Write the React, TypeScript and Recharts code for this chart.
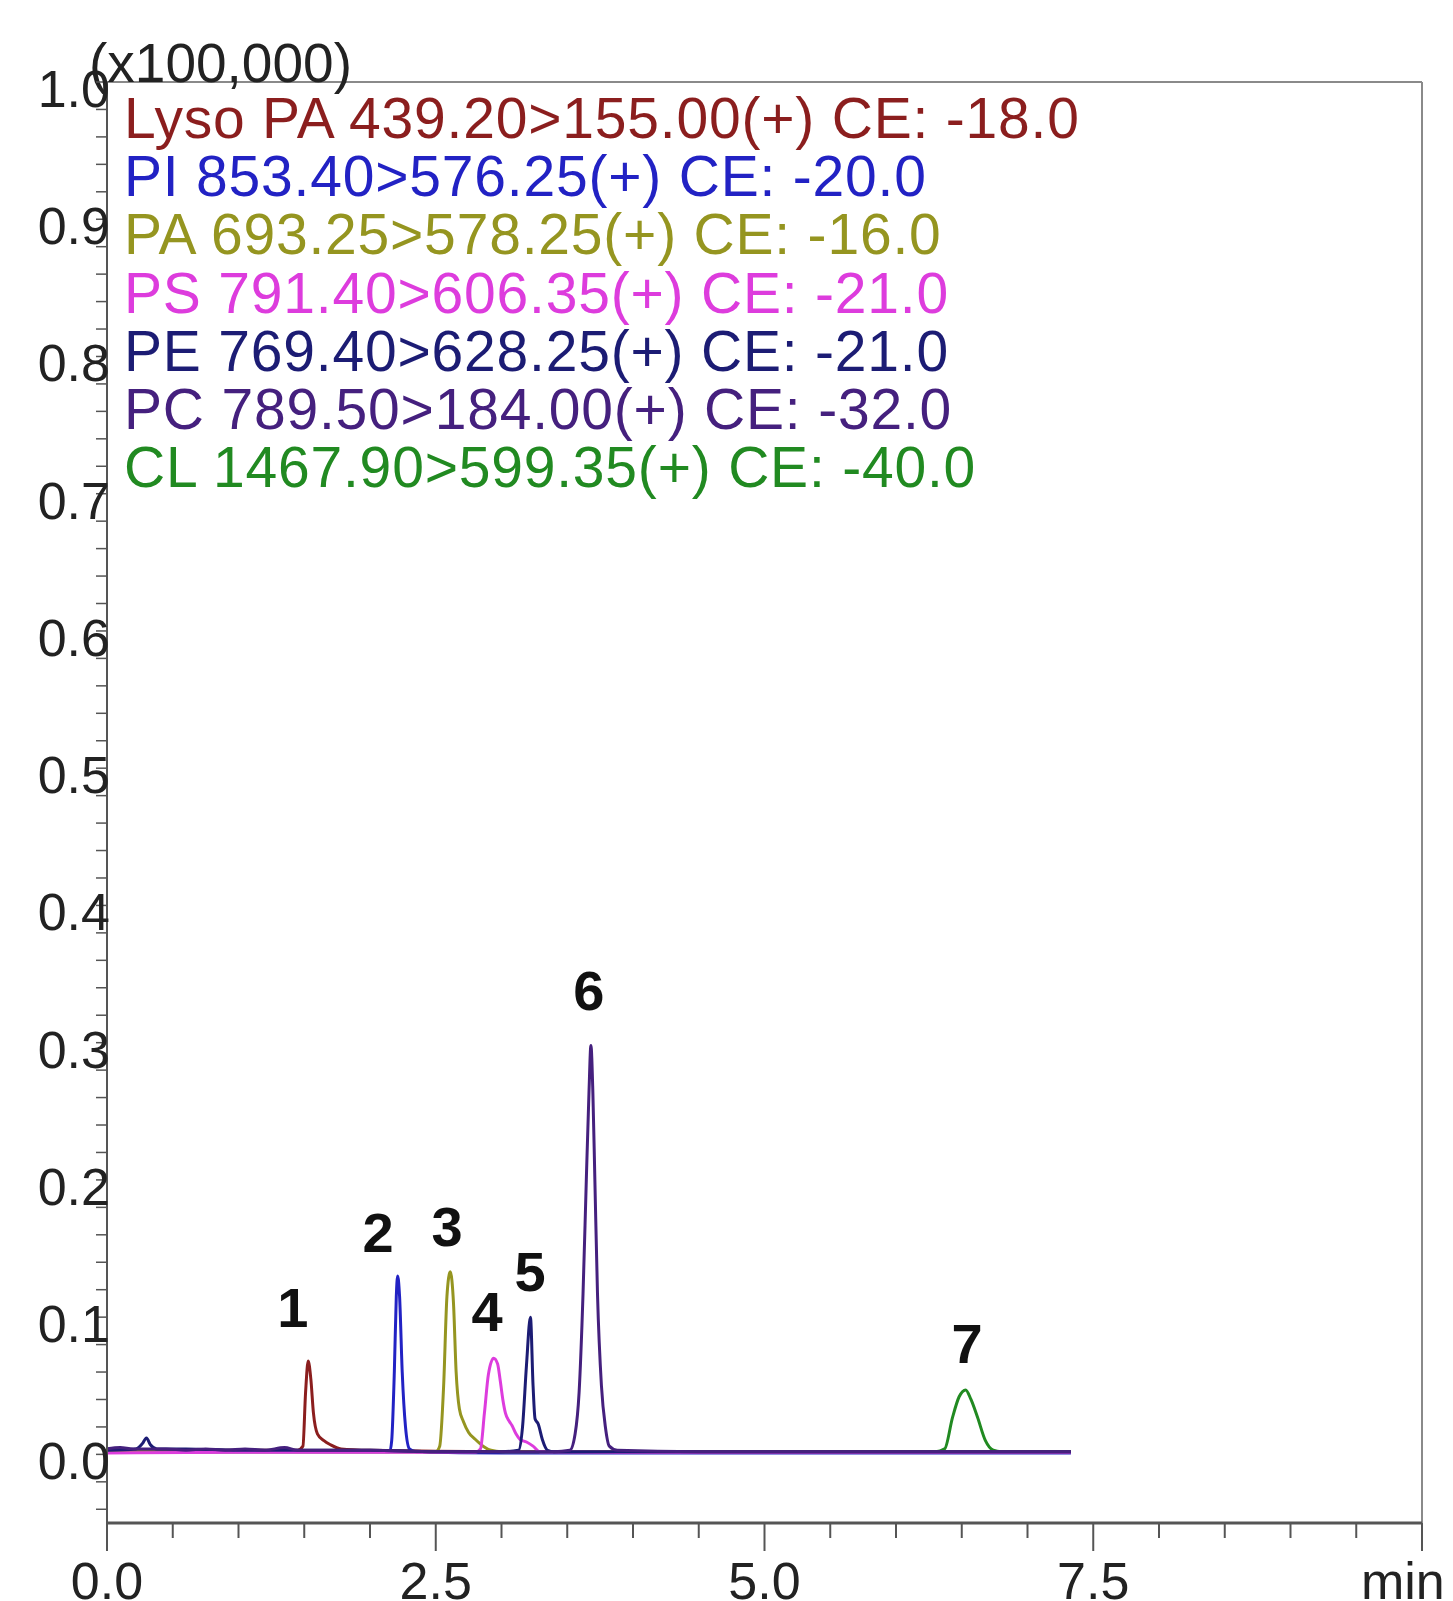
import React from 'react';
import { ComposedChart, Line, XAxis, YAxis, Legend, ReferenceLine, Scatter } from 'recharts';

const FONT = '"Liberation Sans", Arial, sans-serif';

// ---- Series (time [min], intensity [x100,000]) ----
const lysoPA: [number, number][] = [
  [0, 0.003], [0.5, 0.003], [1.0, 0.003], [1.45, 0.003], [1.49, 0.006], [1.51, 0.045], [1.53, 0.068],
  [1.55, 0.055], [1.57, 0.03], [1.6, 0.015], [1.65, 0.01], [1.7, 0.007], [1.78, 0.004], [2.0, 0.003],
  [3.0, 0.002], [7.33, 0.002],
];
const pi: [number, number][] = [
  [0, 0.002], [1.0, 0.002], [2.0, 0.002], [2.15, 0.002], [2.165, 0.01], [2.185, 0.06], [2.2, 0.115],
  [2.21, 0.13], [2.225, 0.115], [2.245, 0.06], [2.27, 0.02], [2.3, 0.004], [2.35, 0.002], [3.0, 0.001],
  [4.0, 0.001], [7.33, 0.001],
];
const pa: [number, number][] = [
  [0, 0.002], [1.0, 0.002], [2.0, 0.002], [2.5, 0.002], [2.53, 0.006], [2.56, 0.05], [2.585, 0.115],
  [2.61, 0.133], [2.635, 0.11], [2.655, 0.06], [2.68, 0.033], [2.71, 0.024], [2.75, 0.016], [2.8, 0.011],
  [2.86, 0.006], [2.92, 0.003], [3.0, 0.002], [4.0, 0.002], [7.33, 0.002],
];
const ps: [number, number][] = [
  [0, 0.001], [1.0, 0.0015], [2.0, 0.0015], [2.8, 0.0015], [2.84, 0.004], [2.87, 0.03], [2.9, 0.058],
  [2.94, 0.07], [2.97, 0.066], [2.99, 0.054], [3.01, 0.04], [3.03, 0.03], [3.06, 0.024], [3.08, 0.021],
  [3.11, 0.015], [3.14, 0.011], [3.19, 0.009], [3.24, 0.006], [3.29, 0.002], [4.0, 0.0015], [5.0, 0.0015],
  [6.0, 0.0015], [7.33, 0.0015],
];
const pe: [number, number][] = [
  [0, 0.003], [0.22, 0.004], [0.27, 0.008], [0.3, 0.012], [0.33, 0.007], [0.38, 0.004], [0.6, 0.004],
  [1.0, 0.003], [1.5, 0.003], [2.0, 0.003], [2.5, 0.002], [3.0, 0.002], [3.13, 0.003], [3.16, 0.02],
  [3.19, 0.065], [3.22, 0.1], [3.24, 0.05], [3.255, 0.026], [3.28, 0.022], [3.31, 0.011], [3.35, 0.003],
  [3.4, 0.002], [4.0, 0.002], [5.0, 0.002], [6.0, 0.002], [7.33, 0.002],
];
const pc: [number, number][] = [
  [0, 0.004], [0.1, 0.005], [0.2, 0.004], [0.45, 0.004], [0.6, 0.003], [0.75, 0.004], [0.9, 0.003],
  [1.05, 0.004], [1.2, 0.003], [1.35, 0.005], [1.45, 0.003], [1.7, 0.003], [2.0, 0.003], [2.5, 0.002],
  [3.0, 0.002], [3.4, 0.002], [3.52, 0.003], [3.56, 0.015], [3.59, 0.045], [3.62, 0.117], [3.645, 0.2],
  [3.665, 0.263], [3.68, 0.298], [3.695, 0.263], [3.71, 0.2], [3.73, 0.117], [3.76, 0.05], [3.79, 0.02],
  [3.82, 0.006], [3.88, 0.003], [4.5, 0.002], [5.5, 0.002], [6.5, 0.002], [7.33, 0.002],
];
const cl: [number, number][] = [
  [0, 0.002], [2.0, 0.002], [4.0, 0.002], [6.3, 0.002], [6.37, 0.004], [6.43, 0.027], [6.48, 0.042],
  [6.53, 0.047], [6.57, 0.04], [6.62, 0.027], [6.68, 0.01], [6.74, 0.003], [6.8, 0.002], [7.33, 0.002],
];

// legend names / colours (legend order)
const seriesNames = [
  'Lyso PA 439.20>155.00(+) CE: -18.0',
  'PI 853.40>576.25(+) CE: -20.0',
  'PA 693.25>578.25(+) CE: -16.0',
  'PS 791.40>606.35(+) CE: -21.0',
  'PE 769.40>628.25(+) CE: -21.0',
  'PC 789.50>184.00(+) CE: -32.0',
  'CL 1467.90>599.35(+) CE: -40.0',
];
const seriesColors = ['#8B1E1E', '#2222C4', '#959520', '#DD3CDD', '#1C1C74', '#45207E', '#218A21'];
const seriesData = [lysoPA, pi, pa, ps, pe, pc, cl];
// draw order: CL first, PC on top
const drawOrder = [6, 0, 1, 2, 3, 4, 5];

// peak number labels (time, intensity of label centre)
const peakLabelText = ['1', '2', '3', '4', '5', '6', '7'];
const peakLabelT = [1.414, 2.061, 2.586, 2.89, 3.217, 3.665, 6.54];
const peakLabelV = [0.1074, 0.162, 0.1664, 0.1045, 0.1336, 0.3384, 0.0812];

// axis ticks
const yTicks = [
  -0.04, -0.02, 0, 0.02, 0.04, 0.06, 0.08, 0.1, 0.12, 0.14, 0.16, 0.18, 0.2, 0.22, 0.24, 0.26, 0.28,
  0.3, 0.32, 0.34, 0.36, 0.38, 0.4, 0.42, 0.44, 0.46, 0.48, 0.5, 0.52, 0.54, 0.56, 0.58, 0.6, 0.62,
  0.64, 0.66, 0.68, 0.7, 0.72, 0.74, 0.76, 0.78, 0.8, 0.82, 0.84, 0.86, 0.88, 0.9, 0.92, 0.94, 0.96,
  0.98, 1.0,
];
const yMajorTicks = [0, 0.1, 0.2, 0.3, 0.4, 0.5, 0.6, 0.7, 0.8, 0.9, 1.0];
const yMajorLabels = ['0.0', '0.1', '0.2', '0.3', '0.4', '0.5', '0.6', '0.7', '0.8', '0.9', '1.0'];
const xTicks = [0, 0.5, 1, 1.5, 2, 2.5, 3, 3.5, 4, 4.5, 5, 5.5, 6, 6.5, 7, 7.5, 8, 8.5, 9, 9.5, 10];
const xMajorTicks = [0, 2.5, 5, 7.5, 10];
const xMajorLabels = ['0.0', '2.5', '5.0', '7.5', ''];
const yUnitLabel = '(x100,000)';
const xUnitLabel = 'min';

const toRows = (pairs: [number, number][]) => pairs.map(([t, v]) => ({ t, v }));
const peakRows = peakLabelText.map((label, i) => ({ t: peakLabelT[i], v: peakLabelV[i], label }));

const near = (a: number, b: number) => Math.abs(a - b) < 1e-6;

const YTick = (props: any) => {
  const { x, y, payload } = props;
  const idx = yMajorTicks.findIndex((m) => near(m, payload.value));
  return (
    <g>
      <line x1={x - 11} x2={x} y1={y} y2={y} stroke="#555" strokeWidth={1.5} />
      {idx >= 0 && (
        <text x={x + 3} y={y + 25} textAnchor="end" fontFamily={FONT} fontSize={52} fill="#222">
          {yMajorLabels[idx]}
        </text>
      )}
    </g>
  );
};

const XTick = (props: any) => {
  const { x, y, payload } = props;
  const idx = xMajorTicks.findIndex((m) => near(m, payload.value));
  const major = idx >= 0;
  return (
    <g>
      <line x1={x} x2={x} y1={y} y2={y + (major ? 28 : 15)} stroke="#555" strokeWidth={2} />
      {major && xMajorLabels[idx] && (
        <text x={x} y={y + 76} textAnchor="middle" fontFamily={FONT} fontSize={52} fill="#222">
          {xMajorLabels[idx]}
        </text>
      )}
    </g>
  );
};

const LegendContent = () => (
  <div style={{ fontFamily: FONT, fontSize: 57, lineHeight: '58.2px', letterSpacing: '0.8px', whiteSpace: 'nowrap' }}>
    {seriesNames.map((name, i) => (
      <div key={name} style={{ color: seriesColors[i] }}>
        {name}
      </div>
    ))}
  </div>
);

const PeakLabel = (props: any) => {
  const { cx, cy, payload } = props;
  return (
    <text x={cx} y={cy + 20} textAnchor="middle" fontFamily={FONT} fontWeight="bold" fontSize={56} fill="#111">
      {payload.label}
    </text>
  );
};

export default function App() {
  return (
    <div style={{ position: 'absolute', left: 0, top: 0, width: 1453, height: 1601, background: '#fff' }}>
      <ComposedChart
        width={1453}
        height={1601}
        margin={{ top: 82, right: 31, bottom: 0, left: 0 }}
        style={{ overflow: 'visible' }}
      >
        <XAxis
          type="number"
          dataKey="t"
          domain={[0, 10]}
          ticks={xTicks}
          interval={0}
          allowDataOverflow
          height={78}
          tickSize={0}
          tickMargin={0}
          tickLine={false}
          axisLine={{ stroke: '#555', strokeWidth: 3 }}
          tick={<XTick />}
          label={{
            content: (p: any) => {
              const vb = p.viewBox || { x: 107, y: 1523, width: 1315 };
              return (
                <text x={vb.x + vb.width - 61} y={vb.y + 76} fontFamily={FONT} fontSize={52} fill="#222">
                  {xUnitLabel}
                </text>
              );
            },
          }}
        />
        <YAxis
          type="number"
          dataKey="v"
          domain={[-0.05, 1.0]}
          ticks={yTicks}
          interval={0}
          allowDataOverflow
          width={107}
          tickSize={0}
          tickMargin={0}
          tickLine={false}
          axisLine={{ stroke: '#555', strokeWidth: 2 }}
          tick={<YTick />}
          label={{
            content: (p: any) => {
              const vb = p.viewBox || { x: 0, y: 82, width: 107 };
              return (
                <text x={vb.x + vb.width - 18} y={vb.y} fontFamily={FONT} fontSize={55} fill="#222">
                  {yUnitLabel}
                </text>
              );
            },
          }}
        />
        <ReferenceLine y={1.0} stroke="#8a8a8a" strokeWidth={2} />
        <ReferenceLine x={10} stroke="#8a8a8a" strokeWidth={2} />
        {drawOrder.map((i) => (
          <Line
            key={seriesNames[i]}
            data={toRows(seriesData[i])}
            dataKey="v"
            name={seriesNames[i]}
            type="monotone"
            stroke={seriesColors[i]}
            strokeWidth={3}
            strokeLinejoin="round"
            dot={false}
            activeDot={false}
            isAnimationActive={false}
          />
        ))}
        <Scatter data={peakRows} dataKey="v" shape={<PeakLabel />} isAnimationActive={false} legendType="none" />
        <Legend
          layout="vertical"
          align="center"
          verticalAlign="middle"
          content={<LegendContent />}
          wrapperStyle={{ top: 89, left: 124, width: 1100, height: 420 }}
        />
      </ComposedChart>
    </div>
  );
}
